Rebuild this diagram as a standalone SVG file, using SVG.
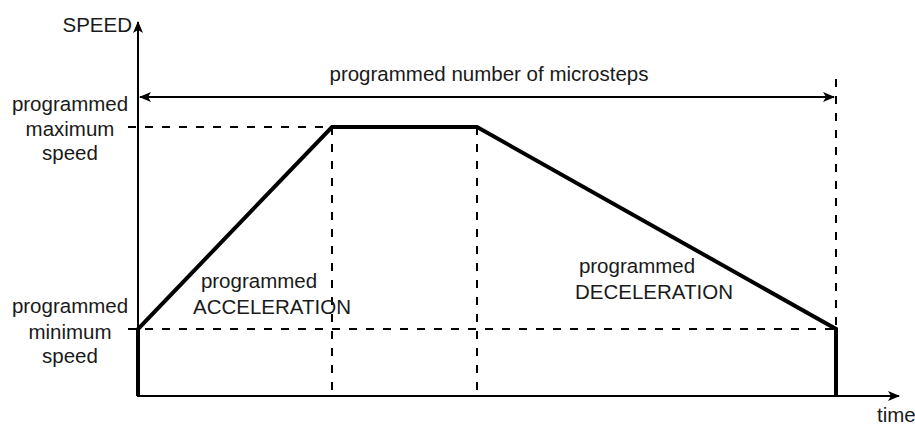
<svg xmlns="http://www.w3.org/2000/svg" width="915" height="429" viewBox="0 0 915 429">
<defs>
<style>
text{font-family:"Liberation Sans",Arial,sans-serif;font-size:20.5px;fill:#1a1a1a}
.c{text-anchor:middle}
.ax{stroke:#000;stroke-width:2;fill:none}
.d{stroke:#000;stroke-width:2;stroke-dasharray:8,9;fill:none}
.p{stroke:#000;stroke-width:4;fill:none;stroke-linejoin:miter}
</style>
<marker id="ah" viewBox="0 0 12 10" refX="11" refY="5" markerWidth="12" markerHeight="10" markerUnits="userSpaceOnUse" orient="auto-start-reverse">
<path d="M0,0 L12,5 L0,10 L3,5 Z" fill="#000"/>
</marker>
</defs>
<rect width="915" height="429" fill="#fff"/>
<g id="connectors">
<line class="ax" x1="138" y1="397" x2="138" y2="22" marker-end="url(#ah)"/>
<line class="ax" x1="137" y1="396" x2="899" y2="396" marker-end="url(#ah)"/>
<line class="ax" x1="140" y1="97" x2="834" y2="97" marker-start="url(#ah)" marker-end="url(#ah)"/>
<line class="d" x1="128" y1="127" x2="332" y2="127"/>
<line class="d" x1="128" y1="329" x2="836" y2="329"/>
<line class="d" x1="332" y1="127" x2="332" y2="396"/>
<line class="d" x1="477" y1="127" x2="477" y2="396"/>
<line class="d" x1="836" y1="79" x2="836" y2="329"/>
<polyline id="profile" class="p" points="138,396 138,329 332,127 477,127 836,329 836,396"/>
</g>
<g id="labels">
<text x="132" y="32" text-anchor="end">SPEED</text>
<text class="c" x="489" y="81">programmed number of microsteps</text>
<text class="c" x="70" y="111">programmed</text>
<text class="c" x="70" y="136">maximum</text>
<text class="c" x="70" y="160">speed</text>
<text class="c" x="70" y="313">programmed</text>
<text class="c" x="70" y="339">minimum</text>
<text class="c" x="70" y="363">speed</text>
<text class="c" x="259" y="288">programmed</text>
<text x="193" y="314">ACCELERATION</text>
<text class="c" x="637" y="273">programmed</text>
<text x="575" y="299">DECELERATION</text>
<text x="877" y="422">time</text>
</g>
</svg>
